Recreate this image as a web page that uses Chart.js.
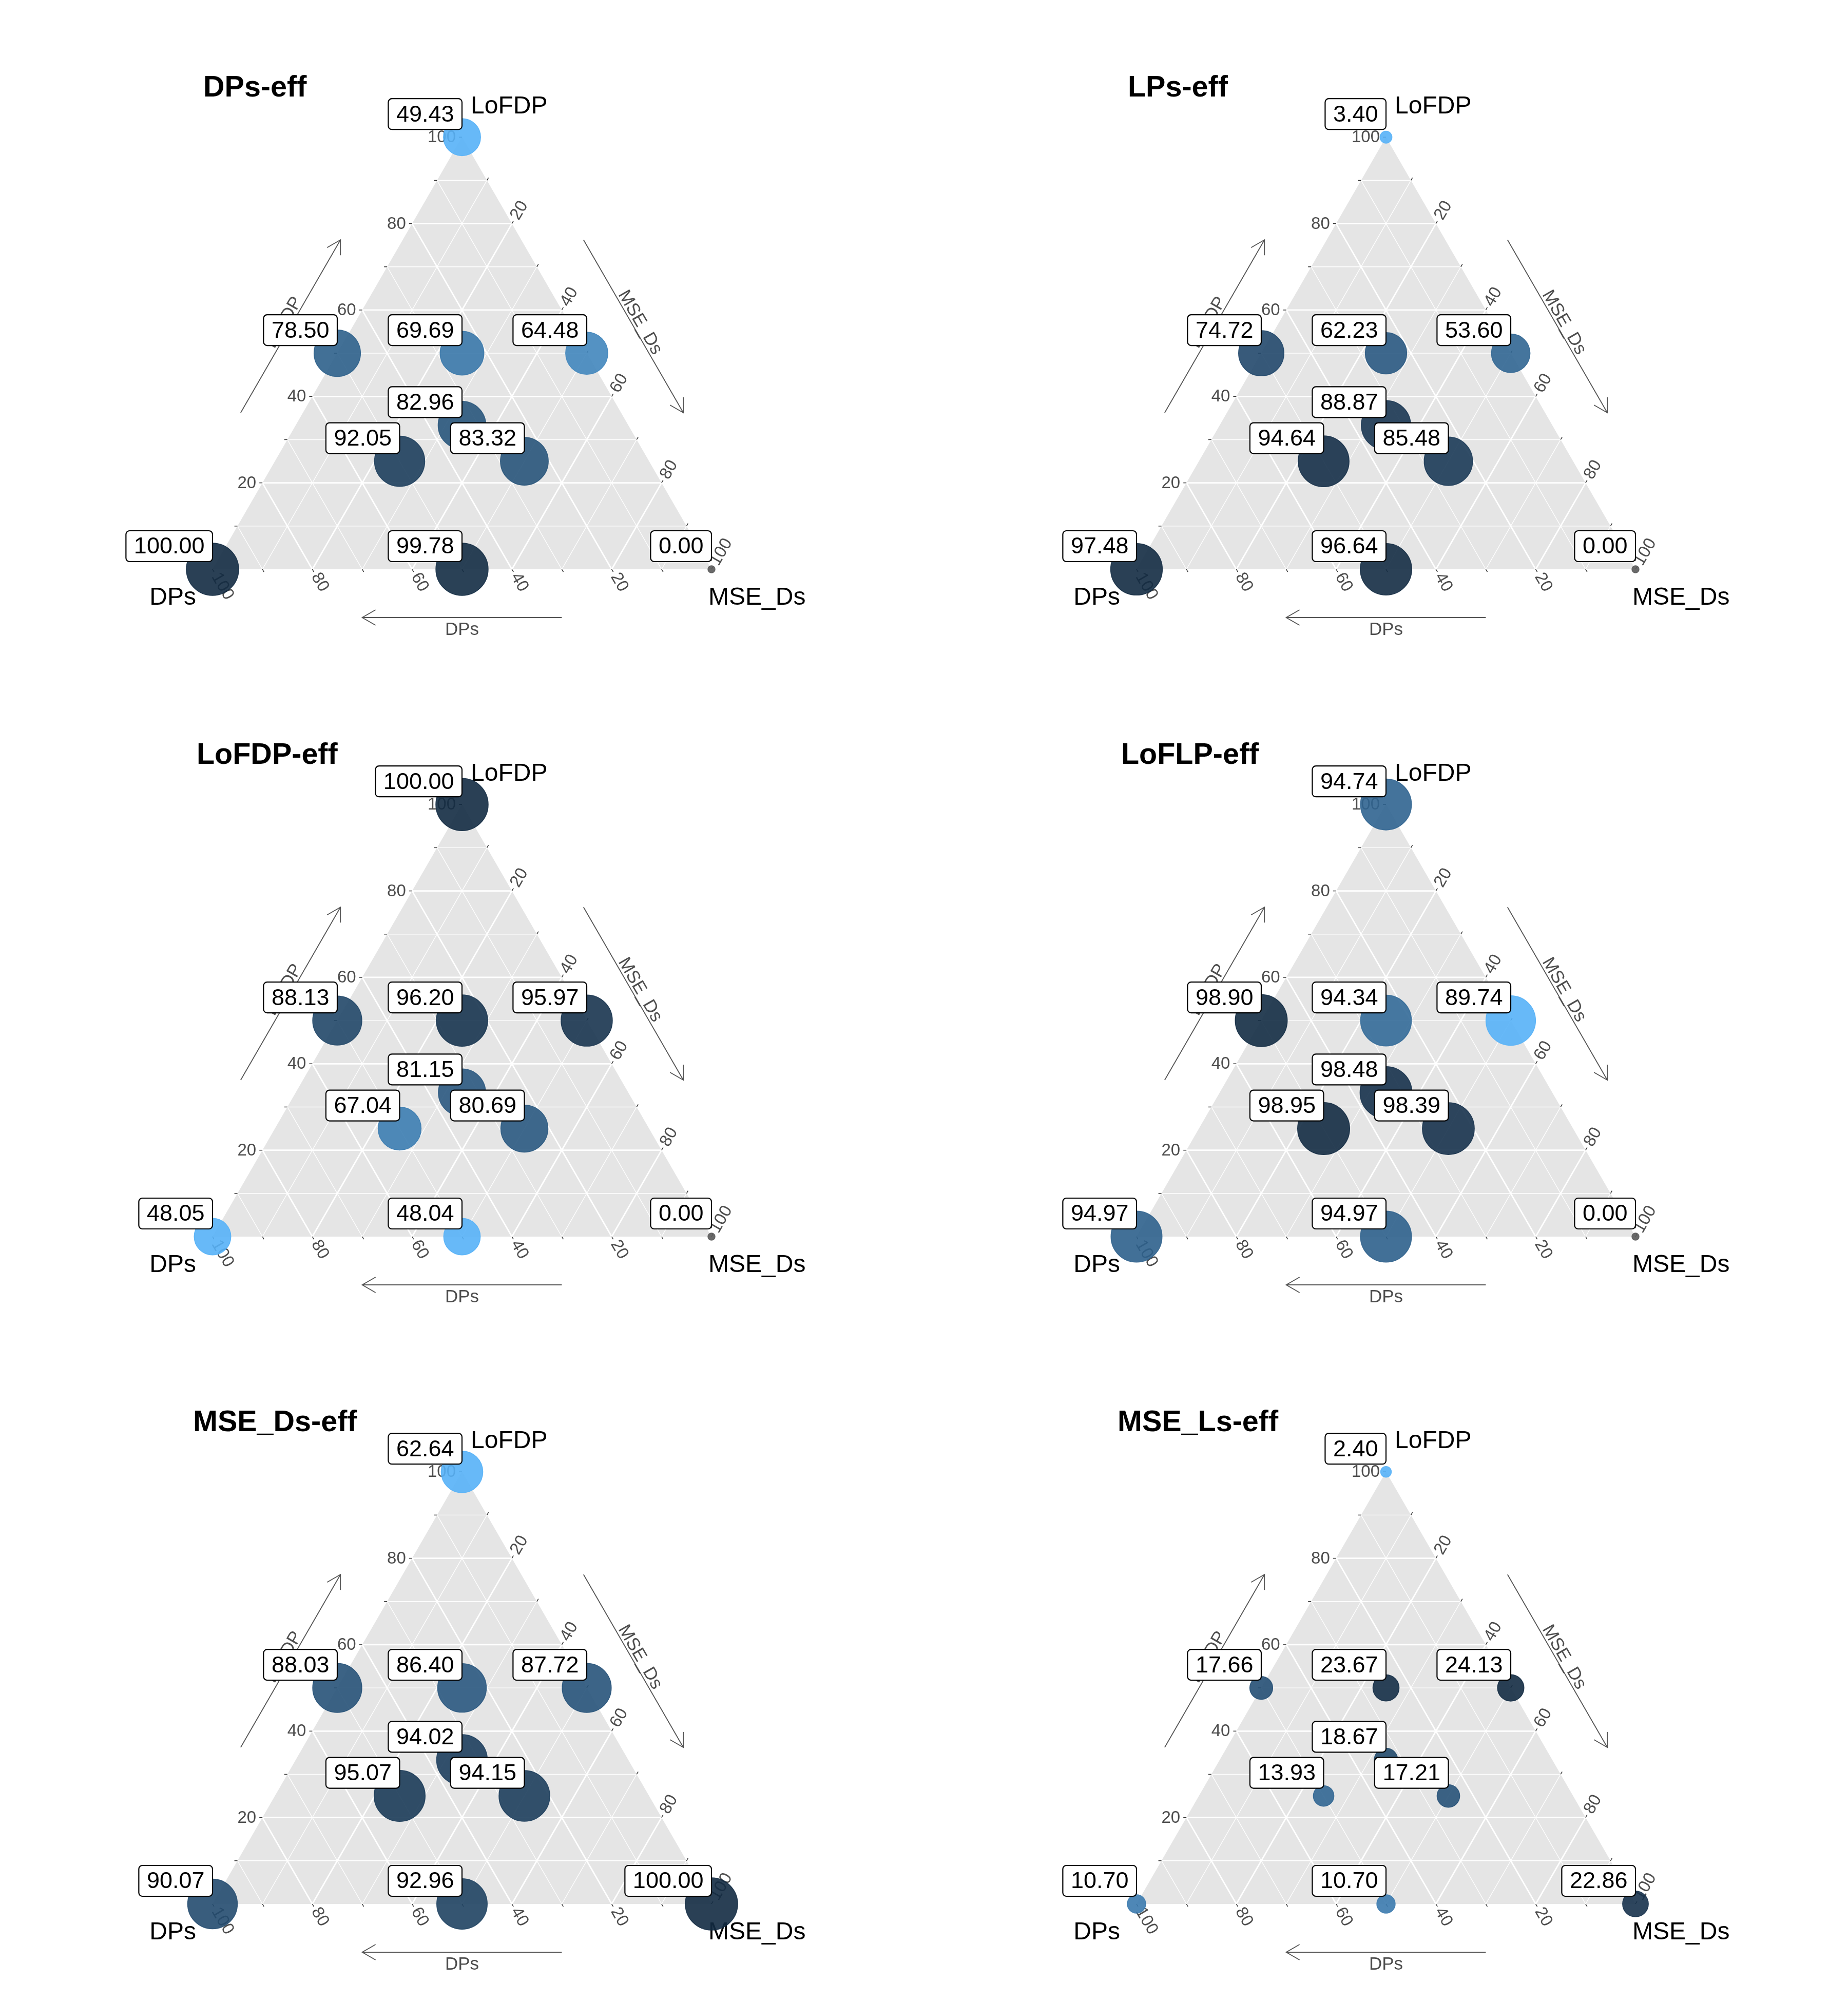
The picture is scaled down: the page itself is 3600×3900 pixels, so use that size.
<!DOCTYPE html>
<html><head><meta charset="utf-8">
<script src="https://cdn.jsdelivr.net/npm/chart.js@4.4.1/dist/chart.umd.min.js"></script>
<style>
html,body{margin:0;padding:0;background:#ffffff;}
#wrap{position:relative;width:3600px;height:3900px;overflow:hidden;}
#wrap canvas{position:absolute;}
</style>
</head><body><div id="wrap"></div>
<script>
// ---------- DATA ----------
const panelTitles = ['DPs-eff', 'LPs-eff', 'LoFDP-eff', 'LoFLP-eff', 'MSE_Ds-eff', 'MSE_Ls-eff'];
const leftVertexName = 'DPs';
const topVertexName = 'LoFDP';
const rightVertexName = 'MSE_Ds';
// mixture design points (shares of each component)
const dpsShare   = [0, 1, 0, 0.5, 0.25, 0,   1/3, 0.5,  0.25, 0.5];
const lofdpShare = [1, 0, 0, 0.5, 0.5,  0.5, 1/3, 0.25, 0.25, 0];
const mseShare   = [0, 0, 1, 0,   0.25, 0.5, 1/3, 0.25, 0.5,  0.5];
// efficiencies per panel, same point order
const dpsEff   = [49.43, 100.00, 0.00, 78.50, 69.69, 64.48, 82.96, 92.05, 83.32, 99.78];
const lpsEff   = [3.40, 97.48, 0.00, 74.72, 62.23, 53.60, 88.87, 94.64, 85.48, 96.64];
const lofdpEff = [100.00, 48.05, 0.00, 88.13, 96.20, 95.97, 81.15, 67.04, 80.69, 48.04];
const loflpEff = [94.74, 94.97, 0.00, 98.90, 94.34, 89.74, 98.48, 98.95, 98.39, 94.97];
const mseDsEff = [62.64, 90.07, 100.00, 88.03, 86.40, 87.72, 94.02, 95.07, 94.15, 92.96];
const mseLsEff = [2.40, 10.70, 22.86, 17.66, 23.67, 24.13, 18.67, 13.93, 17.21, 10.70];
const panelValues = [dpsEff, lpsEff, lofdpEff, loflpEff, mseDsEff, mseLsEff];
// axis ticks (percent)
const tickSteps = [10, 20, 30, 40, 50, 60, 70, 80, 90, 100];
const tickLabelValues = [20, 40, 60, 80, 100];

// ---------- LAYOUT / STYLE ----------
const PW = 1800, PH = 1300;
const SIDE = 972, BLX = 414, BLY = 1109;
const titleLeft = [396, 397, 383, 384, 376, 377];
const FONT = '"Liberation Sans", Arial, Helvetica, sans-serif';
const LOW_COL = '#56B1F7', HIGH_COL = '#132B43';
const S3 = Math.sqrt(3) / 2;

// ---------- colour helpers (CIELAB ramp like ggplot) ----------
function hexToRgb(h){ return [parseInt(h.slice(1,3),16), parseInt(h.slice(3,5),16), parseInt(h.slice(5,7),16)]; }
function lin(c){ c/=255; return c<=0.04045 ? c/12.92 : Math.pow((c+0.055)/1.055, 2.4); }
function delin(c){ c = c<=0.0031308 ? 12.92*c : 1.055*Math.pow(c,1/2.4)-0.055; return Math.max(0, Math.min(255, Math.round(c*255))); }
function rgbToLab(rgb){
  const R=lin(rgb[0]), G=lin(rgb[1]), B=lin(rgb[2]);
  let X=(0.4124*R+0.3576*G+0.1805*B)/0.95047, Y=(0.2126*R+0.7152*G+0.0722*B), Z=(0.0193*R+0.1192*G+0.9505*B)/1.08883;
  const f=t=> t>0.008856 ? Math.cbrt(t) : 7.787*t+16/116;
  const fx=f(X), fy=f(Y), fz=f(Z);
  return [116*fy-16, 500*(fx-fy), 200*(fy-fz)];
}
function labToRgb(lab){
  const fy=(lab[0]+16)/116, fx=fy+lab[1]/500, fz=fy-lab[2]/200;
  const fi=t=> t*t*t>0.008856 ? t*t*t : (t-16/116)/7.787;
  const X=fi(fx)*0.95047, Y=fi(fy), Z=fi(fz)*1.08883;
  const R= 3.2406*X-1.5372*Y-0.4986*Z, G=-0.9689*X+1.8758*Y+0.0415*Z, B=0.0557*X-0.2040*Y+1.0570*Z;
  return [delin(R), delin(G), delin(B)];
}
const labLow = rgbToLab(hexToRgb(LOW_COL)), labHigh = rgbToLab(hexToRgb(HIGH_COL));
function rampColor(t, alpha){
  const lab=[0,1,2].map(i=> labLow[i]+(labHigh[i]-labLow[i])*t);
  const c=labToRgb(lab);
  return 'rgba('+c[0]+','+c[1]+','+c[2]+','+alpha+')';
}

function toX(t, m){ return m + t/2; }
function toY(t){ return t*S3; }

// ---------- plugin drawing the ternary frame & labels ----------
const ternaryPlugin = {
  id: 'ternary',
  beforeDatasetsDraw(chart){
    const o = chart.options.plugins.ternary;
    const ctx = chart.ctx, sx = chart.scales.x, sy = chart.scales.y;
    const P = (t, m) => [sx.getPixelForValue(toX(t, m)), sy.getPixelForValue(toY(t))];
    const apex = P(1,0), bl = P(0,0), br = P(0,1);
    ctx.save();
    // title
    ctx.fillStyle = '#000';
    ctx.font = 'bold 57.5px ' + FONT;
    ctx.textAlign = 'left'; ctx.textBaseline = 'alphabetic';
    ctx.fillText(o.title, o.titleX, apex[1] - 79);
    // background
    ctx.beginPath(); ctx.moveTo(apex[0], apex[1]); ctx.lineTo(bl[0], bl[1]); ctx.lineTo(br[0], br[1]); ctx.closePath();
    ctx.fillStyle = '#E5E5E5'; ctx.fill();
    // grid
    ctx.strokeStyle = '#FFFFFF';
    [false, true].forEach(major => {
      ctx.lineWidth = major ? 2.8 : 1.4;
      tickSteps.forEach(s => {
        if (s >= 100) return;
        if ((s % 20 === 0) !== major) return;
        const v = s/100;
        const lines = [
          [P(v, 0), P(v, 1-v)],          // LoFDP constant
          [P(0, 1-v), P(1-v, 0)],        // DPs constant
          [P(0, v), P(1-v, v)]           // MSE constant
        ];
        lines.forEach(L => { ctx.beginPath(); ctx.moveTo(L[0][0], L[0][1]); ctx.lineTo(L[1][0], L[1][1]); ctx.stroke(); });
      });
    });
    // ticks
    ctx.strokeStyle = '#333333'; ctx.lineWidth = 1.5;
    tickSteps.forEach(s => {
      const v = s/100;
      let p = P(v, 0); ctx.beginPath(); ctx.moveTo(p[0], p[1]); ctx.lineTo(p[0]-6, p[1]); ctx.stroke();
      p = P(0, 1-v); ctx.beginPath(); ctx.moveTo(p[0], p[1]); ctx.lineTo(p[0]+3, p[1]+5.2); ctx.stroke();
      p = P(1-v, v); ctx.beginPath(); ctx.moveTo(p[0], p[1]); ctx.lineTo(p[0]+3, p[1]-5.2); ctx.stroke();
    });
    // tick labels
    ctx.fillStyle = '#4D4D4D'; ctx.font = '33px ' + FONT;
    tickLabelValues.forEach(s => {
      const v = s/100, lab = String(s);
      let p = P(v, 0);
      ctx.textAlign = 'right'; ctx.textBaseline = 'middle';
      ctx.fillText(lab, p[0]-12, p[1]+1);
      p = P(0, 1-v);
      ctx.save(); ctx.translate(p[0]+0.5*11, p[1]+S3*11); ctx.rotate(Math.PI/3);
      ctx.textAlign = 'left'; ctx.fillText(lab, 0, 0); ctx.restore();
      p = P(1-v, v);
      ctx.save(); ctx.translate(p[0]+0.5*11, p[1]-S3*11); ctx.rotate(-Math.PI/3);
      ctx.textAlign = 'left'; ctx.fillText(lab, 0, 0); ctx.restore();
    });
    // arrows
    const arrow = (a, b) => {
      ctx.beginPath(); ctx.moveTo(a[0], a[1]); ctx.lineTo(b[0], b[1]); ctx.stroke();
      const ang = Math.atan2(b[1]-a[1], b[0]-a[0]), L = 30, w = Math.PI/6;
      ctx.beginPath();
      ctx.moveTo(b[0]-L*Math.cos(ang-w), b[1]-L*Math.sin(ang-w));
      ctx.lineTo(b[0], b[1]);
      ctx.lineTo(b[0]-L*Math.cos(ang+w), b[1]-L*Math.sin(ang+w));
      ctx.stroke();
    };
    ctx.strokeStyle = '#555555'; ctx.lineWidth = 1.8;
    const off = (p, nx, ny, d) => [p[0]+nx*d, p[1]+ny*d];
    arrow(off(P(0,0.7),0,1,94), off(P(0,0.3),0,1,94));
    arrow(off(P(0.3,0),-S3,-0.5,105), off(P(0.7,0),-S3,-0.5,105));
    arrow(off(P(0.7,0.3),S3,-0.5,105), off(P(0.3,0.7),S3,-0.5,105));
    // axis titles
    ctx.fillStyle = '#4D4D4D'; ctx.font = '35px ' + FONT; ctx.textAlign = 'center'; ctx.textBaseline = 'alphabetic';
    let q = off(P(0,0.5),0,1,128); ctx.fillText(leftVertexName, q[0], q[1]);
    q = off(P(0.5,0),-S3,-0.5,110);
    ctx.save(); ctx.translate(q[0], q[1]); ctx.rotate(-Math.PI/3); ctx.fillText(topVertexName, 0, 0); ctx.restore();
    q = off(P(0.5,0.5),S3,-0.5,110);
    ctx.save(); ctx.translate(q[0], q[1]); ctx.rotate(Math.PI/3); ctx.fillText(rightVertexName, 0, 0); ctx.restore();
    // vertex labels
    ctx.fillStyle = '#000000'; ctx.font = '48px ' + FONT;
    ctx.textAlign = 'left'; ctx.fillText(topVertexName, apex[0]+17, apex[1]-46);
    ctx.textAlign = 'right'; ctx.fillText(leftVertexName, bl[0]-32, bl[1]+69);
    ctx.textAlign = 'left'; ctx.fillText(rightVertexName, br[0]-6, br[1]+69);
    ctx.restore();
  },
  afterDatasetsDraw(chart){
    const o = chart.options.plugins.ternary;
    const ctx = chart.ctx, sx = chart.scales.x, sy = chart.scales.y;
    ctx.save();
    ctx.font = '45px ' + FONT;
    o.values.forEach((v, i) => {
      const px = sx.getPixelForValue(toX(lofdpShare[i], mseShare[i]));
      const py = sy.getPixelForValue(toY(lofdpShare[i]));
      const txt = v.toFixed(2);
      const tw = ctx.measureText(txt).width;
      const w = tw + 31, h = 60;
      const x0 = px - w, y0 = py - 15 - h;
      ctx.beginPath();
      if (ctx.roundRect) ctx.roundRect(x0, y0, w, h, 7); else ctx.rect(x0, y0, w, h);
      ctx.fillStyle = '#FFFFFF'; ctx.fill();
      ctx.lineWidth = 2.2; ctx.strokeStyle = '#000000'; ctx.stroke();
      ctx.fillStyle = '#000000'; ctx.textAlign = 'center'; ctx.textBaseline = 'middle';
      ctx.fillText(txt, x0 + w/2, y0 + h/2 + 2);
    });
    ctx.restore();
  }
};

// ---------- build charts ----------
const wrap = document.getElementById('wrap');
panelValues.forEach((vals, k) => {
  const cv = document.createElement('canvas');
  cv.width = PW; cv.height = PH;
  cv.style.width = PW + 'px'; cv.style.height = PH + 'px';
  cv.style.left = ((k % 2) * PW) + 'px';
  cv.style.top = (Math.floor(k / 2) * PH) + 'px';
  wrap.appendChild(cv);
  const nz = vals.filter(v => v > 0);
  const vmin = Math.min(...nz), vmax = Math.max(...nz);
  const pts = vals.map((v, i) => ({ x: toX(lofdpShare[i], mseShare[i]), y: toY(lofdpShare[i]) }));
  const fill = vals.map(v => v > 0 ? rampColor((v - vmin) / (vmax - vmin), 0.9) : 'rgba(90,90,90,0.9)');
  const rad = vals.map(v => Math.sqrt(49 + (2601 - 49) * v / 100));
  new Chart(cv, {
    type: 'scatter',
    data: { datasets: [{ data: pts, pointRadius: rad, pointBackgroundColor: fill, pointBorderColor: fill, pointBorderWidth: 1.5, clip: false }] },
    options: {
      responsive: false, animation: false, devicePixelRatio: 1, events: [],
      layout: { padding: 0, autoPadding: false },
      scales: {
        x: { type: 'linear', display: false, min: -BLX / SIDE, max: (PW - BLX) / SIDE },
        y: { type: 'linear', display: false, min: -(PH - BLY) / SIDE, max: BLY / SIDE }
      },
      plugins: {
        legend: { display: false }, tooltip: { enabled: false },
        ternary: { title: panelTitles[k], titleX: titleLeft[k], values: vals }
      }
    },
    plugins: [ternaryPlugin]
  });
});
</script>
</body></html>
